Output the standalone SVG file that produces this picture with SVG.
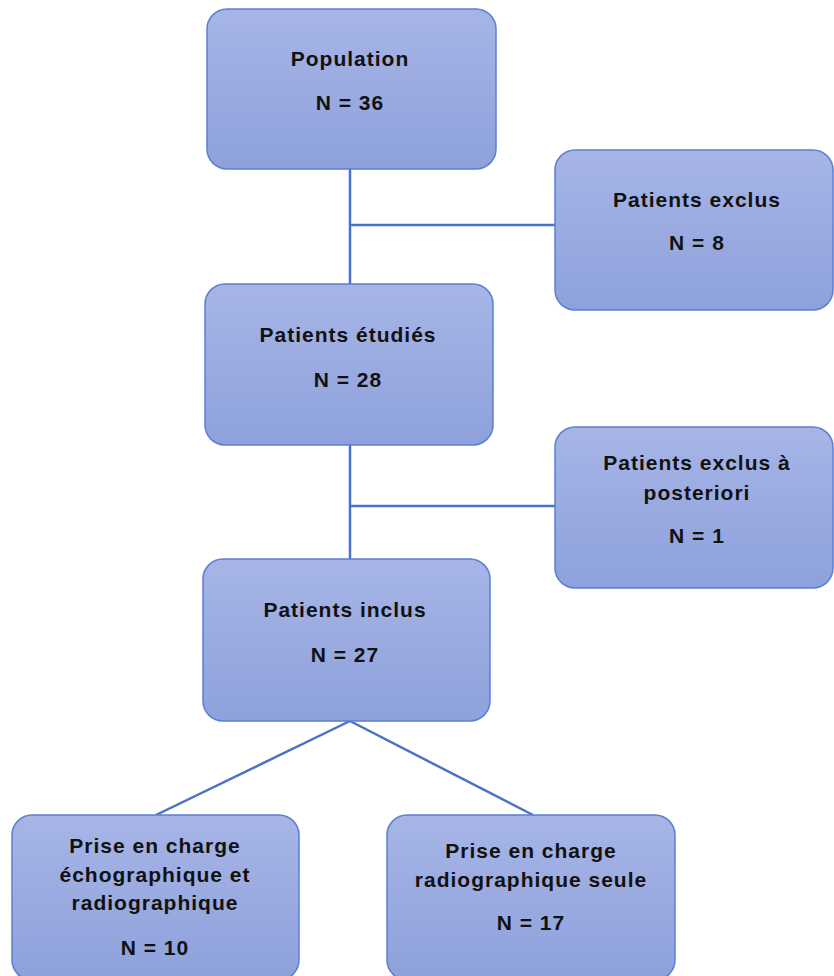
<svg xmlns="http://www.w3.org/2000/svg" width="834" height="976" viewBox="0 0 834 976">
<defs>
<linearGradient id="g" x1="0" y1="0" x2="0" y2="1">
<stop offset="0" stop-color="#a7b5e6"/>
<stop offset="1" stop-color="#8ea1dc"/>
</linearGradient>
</defs>
<style>
.box{fill:url(#g);stroke:#5b7fd3;stroke-width:1.5}
.t{font-family:"Liberation Sans",Arial,sans-serif;font-weight:bold;font-size:21px;letter-spacing:1px;fill:#111;text-anchor:middle}
.c{stroke:#4a72c8;stroke-width:2.5;fill:none}
</style>
<rect width="834" height="976" fill="#fff"/>
<g id="connectors">
<line class="c" x1="350" y1="169" x2="350" y2="284"/>
<line class="c" x1="350" y1="225" x2="555" y2="225"/>
<line class="c" x1="350" y1="445" x2="350" y2="559"/>
<line class="c" x1="350" y1="506" x2="555" y2="506"/>
<line class="c" x1="350" y1="721" x2="156" y2="815"/>
<line class="c" x1="350" y1="721" x2="533" y2="815"/>
</g>
<g id="population">
<rect class="box" x="207" y="9" width="289" height="160" rx="20"/>
<text class="t" x="350" y="66">Population</text>
<text class="t" x="350" y="110">N = 36</text>
</g>
<g id="exclus">
<rect class="box" x="555" y="150" width="278" height="160" rx="20"/>
<text class="t" x="697" y="207">Patients exclus</text>
<text class="t" x="697" y="250">N = 8</text>
</g>
<g id="etudies">
<rect class="box" x="205" y="284" width="288" height="161" rx="20"/>
<text class="t" x="348" y="342">Patients étudiés</text>
<text class="t" x="348" y="387">N = 28</text>
</g>
<g id="exclus-posteriori">
<rect class="box" x="555" y="427" width="278" height="161" rx="20"/>
<text class="t" x="697" y="470">Patients exclus à</text>
<text class="t" x="697" y="500">posteriori</text>
<text class="t" x="697" y="543">N = 1</text>
</g>
<g id="inclus">
<rect class="box" x="203" y="559" width="287" height="162" rx="20"/>
<text class="t" x="345" y="617">Patients inclus</text>
<text class="t" x="345" y="662">N = 27</text>
</g>
<g id="echo-radio">
<rect class="box" x="12" y="815" width="287" height="165" rx="20"/>
<text class="t" x="155" y="853">Prise en charge</text>
<text class="t" x="155" y="882">échographique et</text>
<text class="t" x="155" y="910">radiographique</text>
<text class="t" x="155" y="955">N = 10</text>
</g>
<g id="radio-seule">
<rect class="box" x="387" y="815" width="288" height="165" rx="20"/>
<text class="t" x="531" y="858">Prise en charge</text>
<text class="t" x="531" y="887">radiographique seule</text>
<text class="t" x="531" y="930">N = 17</text>
</g>
</svg>
